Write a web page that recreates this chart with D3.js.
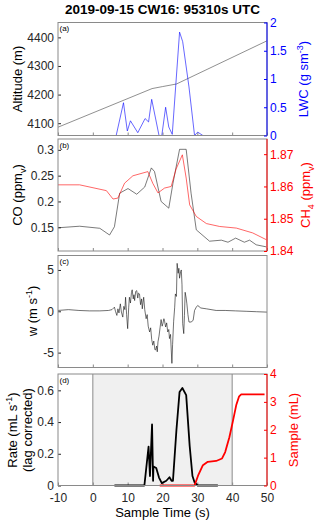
<!DOCTYPE html>
<html>
<head>
<meta charset="utf-8">
<script src="https://cdn.jsdelivr.net/npm/d3@7"></script>
<style>
body { margin: 0; background: #fff; }
svg { font-family: "Liberation Sans", Arial, sans-serif; }
</style>
</head>
<body>
<svg width="320" height="524"></svg>
<script>
const titleText = "2019-09-15 CW16: 95310s UTC";
const xTicks = [-10, 0, 10, 20, 30, 40, 50];

// (a) altitude (m) and liquid water content (g sm-3), [time, value]
const altitude = [[-10, 4086], [17, 4221], [20, 4228], [24, 4237], [50, 4388]];
const lwc = [[-10, 0], [6.7, 0], [8.8, 0.58], [9.9, 0.08], [10.8, 0.26], [12.9, 0.05], [15.0, 0.3],
    [16.0, 0.24], [16.9, 0.64], [19.0, 0], [19.8, 0], [20.9, 0.5], [21.8, 0.15], [22.8, 0.02],
    [24.9, 1.83], [25.8, 1.66], [27.6, 0.86], [29.2, 0], [30.1, 0.06], [31.6, 0], [50, 0]];
const altTicks = [4100, 4200, 4300, 4400];
const lwcTicks = [0, 0.5, 1, 1.5, 2];

// (b) CO and CH4 (ppmv)
const co = [[-10, 0.149], [-3.8, 0.152], [2, 0.148], [4.8, 0.135], [6.2, 0.151], [7.7, 0.216],
    [10.1, 0.225], [12.6, 0.214], [14.9, 0.228], [16.8, 0.265], [17.7, 0.258], [19.6, 0.2],
    [21.8, 0.187], [23, 0.235], [24.9, 0.301], [26.8, 0.301], [28.2, 0.216], [29.7, 0.145],
    [33.5, 0.123], [36.9, 0.125], [38.8, 0.121], [41, 0.129], [43.5, 0.121], [45, 0.125],
    [46.9, 0.116], [49.8, 0.112]];
const ch4 = [[-10, 1.8605], [-3.8, 1.8605], [3.9, 1.8587], [5.8, 1.8561], [7.2, 1.8564],
    [9.1, 1.861], [11.5, 1.8633], [15.8, 1.8646], [17.2, 1.861], [18.7, 1.858], [20.6, 1.8595],
    [22.5, 1.86], [23.9, 1.8654], [25.7, 1.8698], [26.8, 1.8626], [27.8, 1.8543], [29.7, 1.8507],
    [32.6, 1.8485], [36.4, 1.8476], [41.2, 1.8471], [45.9, 1.8456], [49.8, 1.8435]];
const coTicks = [0.15, 0.2, 0.25, 0.3];
const ch4Ticks = [1.84, 1.85, 1.86, 1.87];

// (c) vertical wind (m s-1)
const wind = [[-10, 0.1], [-7, 0.2], [-4, 0.1], [-1, 0.05], [2, 0.05], [4.5, 0.1], [5.5, 0.2],
    [6.2, 0.5], [6.5, 0.0], [6.9, -0.5], [7.2, 0.3], [7.5, -0.2], [7.9, 0.9], [8.2, -0.1],
    [8.6, -0.7], [8.9, 0.6], [9.2, 0.2], [9.4, 1.7], [9.7, -0.4], [10.0, -2.1], [10.3, 0.5],
    [10.5, 1.7], [10.8, 1.0], [11.1, 2.3], [11.3, 2.6], [11.6, 1.5], [11.8, 2.0], [12.0, 1.3],
    [12.3, 2.4], [12.6, 2.5], [12.9, 1.6], [13.1, 2.2], [13.4, 2.1], [13.7, 0.8], [14.0, 1.5],
    [14.2, 0.3], [14.4, 1.1], [14.6, 1.7], [14.9, 0.2], [15.3, -0.9], [15.6, -0.4], [15.9, -1.8],
    [16.3, -2.5], [16.6, -2.0], [16.9, -3.4], [17.2, -4.1], [17.5, -3.6], [17.8, -4.6],
    [18.0, -4.7], [18.3, -4.2], [18.5, -4.9], [18.7, -3.7], [19.0, -3.0], [19.3, -2.0],
    [19.6, -1.0], [19.9, -1.8], [20.1, -1.5], [20.4, -0.9], [20.6, -1.2], [20.9, -1.9],
    [21.2, -1.4], [21.5, -2.5], [21.8, -2.2], [22.0, -3.3], [22.3, -2.8], [22.7, -6.3],
    [22.9, -4.0], [23.2, -1.2], [23.5, 0.5], [23.7, 2.1], [24.0, 1.8], [24.2, 5.8], [24.5, 4.6],
    [24.7, 5.2], [24.9, 4.0], [25.2, 4.8], [25.4, 5.0], [25.6, 3.2], [25.8, -1.5], [26.1, -2.7],
    [26.3, -0.5], [26.5, 2.3], [26.8, 1.6], [27.0, 0.9], [27.3, -0.4], [27.6, -1.3], [28.2, -1.3],
    [28.8, -1.1], [29.2, 0.1], [29.7, 0.5], [30.1, 0.7], [31, 0.4], [32.6, 0.3], [35.4, 0.1],
    [38, 0.1], [41, 0.05], [44, 0], [47, -0.05], [50, -0.1]];
const windTicks = [-5, 0, 5];

// (d) sample rate (mL s-1, lag corrected) and cumulative sample (mL)
const rate = [[6.2, 0], [14.8, 0], [16.0, 0.245], [16.4, 0.06], [17.0, 0.385], [17.3, 0.03],
    [17.4, 0.12], [18.2, 0.11], [19.0, 0.05], [19.8, 0.015], [21.1, 0.03], [22.0, 0.052],
    [22.6, 0.03], [23.0, 0.03], [24.0, 0.35], [24.9, 0.59], [25.7, 0.615], [26.8, 0.57],
    [27.8, 0.25], [28.6, 0.06], [29.2, 0.02], [30.1, 0], [35.9, 0]];
const sample = [[19.2, 0], [29.2, 0], [30.2, 0.35], [31.6, 0.73], [33, 0.85], [35.4, 0.88],
    [37.1, 0.97], [38.0, 1.2], [39.2, 1.73], [40.2, 2.3], [41.2, 2.9], [42.0, 3.2], [42.6, 3.27],
    [49.3, 3.27]];
const sampleWindow = [0, 40];
const rateTicks = [0, 0.2, 0.4, 0.6];
const sampleTicks = [0, 1, 2, 3, 4];

const svg = d3.select('svg');
const left = 58, right = 267;
const x = d3.scaleLinear().domain([-10, 50]).range([left, right]);

svg.append('text')
    .attr('x', (left + right) / 2)
    .attr('y', 13.5)
    .attr('text-anchor', 'middle')
    .attr('font-size', 13.5)
    .attr('font-weight', 'bold')
    .text(titleText);

// rotated axis label, parts are [text, 'sub'|'sup'|undefined]
function rotLabel(px, py, parts, color) {
    const t = svg.append('text')
        .attr('transform', `translate(${px},${py}) rotate(-90)`)
        .attr('text-anchor', 'middle')
        .attr('font-size', 13)
        .attr('fill', color);
    var shift = 0;
    parts.forEach(p => {
        var target = 0;
        if (p[1] === 'sub') target = 4;
        if (p[1] === 'sup') target = -5;
        t.append('tspan')
            .attr('dy', target - shift)
            .attr('font-size', p[1] ? 9 : 13)
            .text(p[0]);
        shift = target;
    });
    return t;
}

function styleAxis(g, color) {
    g.attr('font-size', 12)
        .attr('font-family', '"Liberation Sans", Arial, sans-serif');
    g.select('.domain').remove();
    g.selectAll('line').attr('stroke', color);
    g.selectAll('text').attr('fill', color);
}

function makePanel(top, bottom, letter, opts) {
    const g = svg.append('g');
    const yl = d3.scaleLinear().domain(opts.leftDomain).range([bottom, top]);
    const yr = opts.rightDomain ? d3.scaleLinear().domain(opts.rightDomain).range([bottom, top]) : null;

    if (opts.shade) {
        g.append('rect')
            .attr('x', x(opts.shade[0]))
            .attr('y', top)
            .attr('width', x(opts.shade[1]) - x(opts.shade[0]))
            .attr('height', bottom - top)
            .attr('fill', '#f0f0f0');
        opts.shade.forEach(v => {
            g.append('line')
                .attr('x1', x(v)).attr('x2', x(v))
                .attr('y1', top).attr('y2', bottom)
                .attr('stroke', '#8a8a8a')
                .attr('stroke-width', 1);
        });
    }

    // x ticks (inward), labels only on the last panel
    const xa = d3.axisBottom(x).tickValues(xTicks).tickSize(-3).tickPadding(8)
        .tickFormat(opts.xLabels ? d => d : '');
    const xg = g.append('g').attr('transform', `translate(0,${bottom})`).call(xa);
    styleAxis(xg, '#262626');
    xg.selectAll('line').attr('stroke', '#8a8a8a');

    const la = d3.axisLeft(yl).tickValues(opts.leftTicks).tickSize(-3).tickPadding(4).tickFormat(d => d);
    const lg = g.append('g').attr('transform', `translate(${left},0)`).call(la);
    styleAxis(lg, '#262626');

    opts.lines.forEach(s => {
        const ys = s.axis === 'right' ? yr : yl;
        g.append('path')
            .datum(s.data)
            .attr('fill', 'none')
            .attr('stroke', s.color)
            .attr('stroke-width', s.width)
            .attr('stroke-linejoin', 'round')
            .attr('d', d3.line().x(d => x(d[0])).y(d => ys(d[1])));
    });

    // box
    g.append('rect')
        .attr('x', left).attr('y', top)
        .attr('width', right - left).attr('height', bottom - top)
        .attr('fill', 'none')
        .attr('stroke', '#8a8a8a')
        .attr('stroke-width', 1);

    if (yr) {
        const ra = d3.axisRight(yr).tickValues(opts.rightTicks).tickSize(-3).tickPadding(3).tickFormat(d => d);
        const rg = g.append('g').attr('transform', `translate(${right},0)`).call(ra);
        styleAxis(rg, opts.rightColor);
        g.append('line')
            .attr('x1', right).attr('x2', right)
            .attr('y1', top).attr('y2', bottom)
            .attr('stroke', opts.rightColor)
            .attr('stroke-width', 1);
    }

    g.append('text')
        .attr('x', left + 1.5)
        .attr('y', top + 8.5)
        .attr('font-size', 8)
        .text(letter);
}

// panel (a)
makePanel(22.5, 135.5, '(a)', {
    leftDomain: [4057, 4452], leftTicks: altTicks,
    rightDomain: [0, 2], rightTicks: lwcTicks, rightColor: '#0000ff',
    lines: [
        {data: altitude, color: '#444', width: 0.6},
        {data: lwc, color: '#0000ff', width: 0.6, axis: 'right'}
    ]
});
rotLabel(22, 79, [['Altitude (m)']], '#000');
rotLabel(308, 79, [['LWC (g sm'], ['-3', 'sup'], [')']], '#0000ff');

// panel (b)
makePanel(139, 251, '(b)', {
    leftDomain: [0.104, 0.321], leftTicks: coTicks,
    rightDomain: [1.84, 1.8747], rightTicks: ch4Ticks, rightColor: '#ff0000',
    lines: [
        {data: co, color: '#222', width: 0.6},
        {data: ch4, color: '#ff0000', width: 0.6, axis: 'right'}
    ]
});
rotLabel(22, 195, [['CO (ppm'], ['v', 'sub'], [')']], '#000');
rotLabel(310, 195, [['CH'], ['4', 'sub'], [' (ppm'], ['v', 'sub'], [')']], '#ff0000');

// panel (c)
makePanel(255.5, 367.5, '(c)', {
    leftDomain: [-6.8, 6.75], leftTicks: windTicks,
    lines: [{data: wind, color: '#111', width: 0.6}]
});
rotLabel(36.5, 311, [['w (m s'], ['-1', 'sup'], [')']], '#000');

// panel (d)
makePanel(374, 485.5, '(d)', {
    leftDomain: [0, 0.703], leftTicks: rateTicks,
    rightDomain: [0, 4], rightTicks: sampleTicks, rightColor: '#ff0000',
    shade: sampleWindow, xLabels: true,
    lines: [
        {data: rate, color: '#000', width: 1.8},
        {data: sample, color: '#ff0000', width: 1.8, axis: 'right'}
    ]
});
rotLabel(17, 430, [['Rate (mL s'], ['-1', 'sup'], [')']], '#000');
rotLabel(32, 430, [['(lag corrected)']], '#000');
rotLabel(298, 430, [['Sample (mL)']], '#ff0000');

svg.append('text')
    .attr('x', (left + right) / 2)
    .attr('y', 517)
    .attr('text-anchor', 'middle')
    .attr('font-size', 13)
    .text('Sample Time (s)');
</script>
</body>
</html>
